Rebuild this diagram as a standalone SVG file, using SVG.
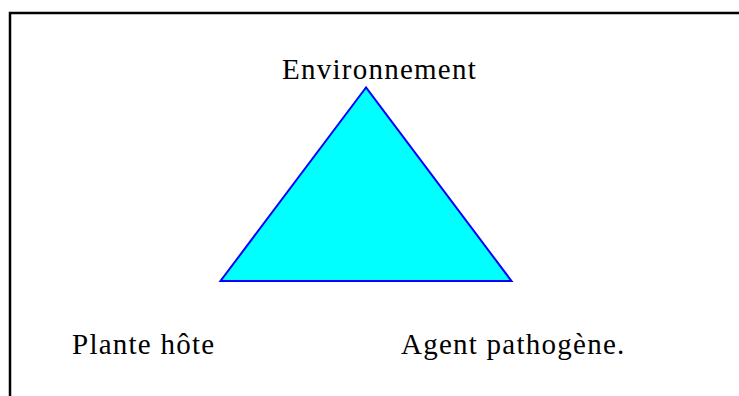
<svg xmlns="http://www.w3.org/2000/svg" width="739" height="396" viewBox="0 0 739 396">
<style>
.lbl{font-family:"Liberation Serif","Times New Roman",serif;font-size:29px;letter-spacing:1.25px;fill:#000}
.frame{fill:none;stroke:#000;stroke-width:2.5}
.tri{fill:#00FFFF;stroke:#0000FF;stroke-width:2;stroke-linejoin:miter}
</style>
<rect width="739" height="396" fill="#fff"/>
<g id="frame"><polyline class="frame" points="10,396 10,13 739,13"/></g>
<g id="triangle"><polygon class="tri" points="366,87.5 220.5,281 511.5,281"/></g>
<g id="environnement"><text class="lbl" x="282" y="78.5">Environnement</text></g>
<g id="plante"><text class="lbl" x="72" y="354">Plante hôte</text></g>
<g id="agent"><text class="lbl" x="401" y="354">Agent pathogène.</text></g>
<g id="connectors"></g>
</svg>
